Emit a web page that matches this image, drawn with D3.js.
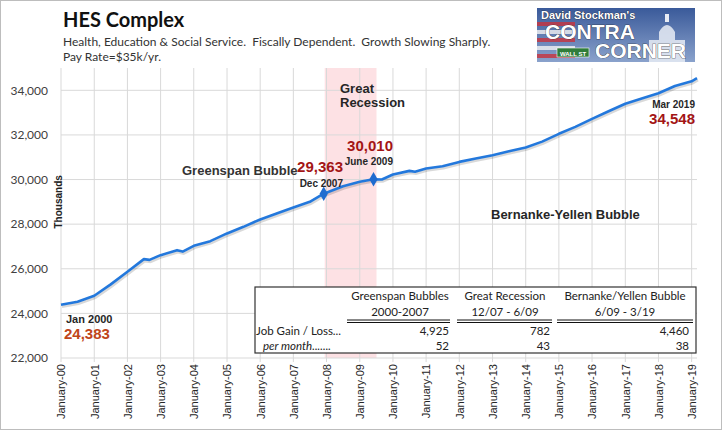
<!DOCTYPE html>
<html>
<head>
<meta charset="utf-8">
<script src="https://cdn.jsdelivr.net/npm/d3@7"></script>
<style>
  body { margin: 0; background: #fff; }
  svg { display: block; }
</style>
</head>
<body>
<svg id="chart" width="722" height="430"></svg>
<script>
// HES employment, thousands
const dates = [
  '2000-01', '2000-07', '2001-01', '2001-07', '2002-01', '2002-07', '2002-09',
  '2003-01', '2003-07', '2003-09', '2004-01', '2004-07', '2005-01', '2005-07',
  '2006-01', '2006-07', '2007-01', '2007-07', '2007-12', '2008-07', '2009-01',
  '2009-06', '2009-09', '2010-01', '2010-07', '2010-09', '2011-01', '2011-07',
  '2012-01', '2012-07', '2013-01', '2013-07', '2014-01', '2014-07', '2015-01',
  '2015-07', '2016-01', '2016-07', '2017-01', '2017-07', '2018-01', '2018-07',
  '2019-01', '2019-03'
];
const values = [
  24383, 24519, 24788, 25299, 25863, 26432, 26400,
  26611, 26835, 26770, 27028, 27239, 27584, 27880,
  28211, 28480, 28749, 29000, 29363, 29702, 29900,
  30010, 30000, 30226, 30388, 30350, 30495, 30598,
  30791, 30943, 31091, 31270, 31435, 31700, 32050,
  32359, 32720, 33061, 33400, 33630, 33870, 34194,
  34405, 34548
];
const yTicks = [22000, 24000, 26000, 28000, 30000, 32000, 34000];
const recession = ['2007-12', '2009-06'];

const marked = [
  { date: '2000-01', value: 24383, label: 'Jan 2000' },
  { date: '2007-12', value: 29363, label: 'Dec 2007' },
  { date: '2009-06', value: 30010, label: 'June 2009' },
  { date: '2019-03', value: 34548, label: 'Mar 2019' }
];

const tableHeads = [
  ['Greenspan Bubbles', '2000-2007'],
  ['Great Recession', '12/07 - 6/09'],
  ['Bernanke/Yellen Bubble', '6/09 - 3/19']
];
const jobGain = [4925, 782, 4460];
const perMonth = [52, 43, 38];

const parse = d3.timeParse('%Y-%m');
const data = dates.map((d, i) => ({ date: parse(d), value: values[i] }));

const svg = d3.select('#chart');
const W = 722, H = 430;
const margin = { top: 68, right: 25, bottom: 72, left: 61 };

// outer frame
svg.append('rect')
  .attr('x', 0.5).attr('y', 0.5)
  .attr('width', W - 1).attr('height', H - 1)
  .attr('fill', '#fff').attr('stroke', '#bdbdbd');

const x = d3.scaleTime()
  .domain([parse('2000-01'), parse('2019-03')])
  .range([margin.left, W - margin.right]);
const y = d3.scaleLinear()
  .domain([22000, 35000])
  .range([H - margin.bottom, margin.top]);

const years = d3.timeYear.range(parse('2000-01'), parse('2019-02'));

// recession band
const recX0 = x(parse(recession[0])) + 1;
svg.append('rect')
  .attr('x', recX0)
  .attr('y', margin.top)
  .attr('width', x(parse(recession[1])) - recX0 + 3)
  .attr('height', y(22000) - margin.top)
  .attr('fill', '#fde1e4');

// grid
const g_grid = svg.append('g');
g_grid.selectAll('.vg').data(years).enter().append('line')
  .attr('x1', d => x(d)).attr('x2', d => x(d))
  .attr('y1', margin.top).attr('y2', y(22000) + 4)
  .attr('stroke', '#d9d9d9');
g_grid.selectAll('.hg').data(yTicks).enter().append('line')
  .attr('x1', margin.left).attr('x2', W - margin.right)
  .attr('y1', d => y(d)).attr('y2', d => y(d))
  .attr('stroke', '#d9d9d9');

// y axis labels
const g_y = svg.append('g')
  .attr('transform', `translate(${margin.left},0)`)
  .call(d3.axisLeft(y).tickValues(yTicks).tickFormat(d3.format(',')).tickSize(0).tickPadding(13));
g_y.select('.domain').remove();
g_y.selectAll('text')
  .style('font-family', 'Lato, sans-serif').style('font-size', '12px').attr('fill', '#404040');

svg.append('text')
  .attr('transform', `translate(62,${y(29000)}) rotate(-90)`)
  .attr('text-anchor', 'middle')
  .style('font-family', 'Liberation Sans, Arial, sans-serif')
  .style('font-size', '10px').style('font-weight', 'bold').attr('fill', '#222')
  .text('Thousands');

// x axis labels
const g_x = svg.append('g')
  .attr('transform', `translate(0,${y(22000)})`)
  .call(d3.axisBottom(x).tickValues(years).tickFormat(d => 'January-' + d3.timeFormat('%y')(d)).tickSize(0).tickPadding(5));
g_x.select('.domain').remove();
g_x.selectAll('text')
  .attr('transform', 'rotate(-90)')
  .attr('x', -6).attr('y', 0).attr('dy', '0.35em')
  .style('text-anchor', 'end')
  .style('font-family', 'Liberation Sans, Arial, sans-serif')
  .style('font-size', '11px').attr('fill', '#262626');

// line with soft shadow
const line = d3.line().x(d => x(d.date)).y(d => y(d.value));
svg.append('path').datum(data)
  .attr('d', line)
  .attr('transform', 'translate(1,2)')
  .attr('fill', 'none').attr('stroke', 'rgba(0,0,0,0.15)').attr('stroke-width', 2.6);
svg.append('path').datum(data)
  .attr('d', line)
  .attr('fill', 'none').attr('stroke', '#2378dc').attr('stroke-width', 2.6)
  .attr('stroke-linejoin', 'round');

// diamond markers
svg.selectAll('.mk').data(marked.slice(1, 3)).enter().append('path')
  .attr('d', d3.symbol().type(d3.symbolDiamond).size(60))
  .attr('transform', d => `translate(${x(parse(d.date))},${y(d.value)})`)
  .attr('fill', '#1f6ccf');

// annotations
const ann = (tx, ty, txt, size, color, anchor) =>
  svg.append('text').attr('x', tx).attr('y', ty)
    .attr('text-anchor', anchor || 'start')
    .style('font-family', 'Liberation Sans, Arial, sans-serif')
    .style('font-size', size + 'px').style('font-weight', 'bold')
    .attr('fill', color).text(txt);

ann(66, 323, marked[0].label, 11, '#262626');
ann(64, 339, d3.format(',')(marked[0].value), 15, '#c0451a');
ann(182, 175, 'Greenspan Bubble', 13, '#333');
ann(343, 172, d3.format(',')(marked[1].value), 15, '#a31515', 'end');
ann(343, 187, marked[1].label, 10, '#262626', 'end');
ann(393, 151, d3.format(',')(marked[2].value), 15, '#a31515', 'end');
ann(393, 165, marked[2].label, 10, '#262626', 'end');
ann(340, 93, 'Great', 13, '#262626');
ann(340, 107, 'Recession', 13, '#262626');
ann(491, 219, 'Bernanke-Yellen Bubble', 13, '#262626');
ann(695, 108, marked[3].label, 10, '#262626', 'end');
ann(695, 124, d3.format(',')(marked[3].value), 15, '#a31515', 'end');

// titles
svg.append('text').attr('x', 63).attr('y', 27)
  .style('font-family', 'Lato, sans-serif').style('font-size', '20px').style('font-weight', 'bold')
  .attr('fill', '#111').text('HES Complex');
svg.append('text').attr('x', 63).attr('y', 46)
  .style('font-family', 'Lato, sans-serif').style('font-size', '12px').attr('fill', '#333')
  .attr('xml:space', 'preserve')
  .text('Health, Education & Social Service.  Fiscally Dependent.  Growth Slowing Sharply.');
svg.append('text').attr('x', 63).attr('y', 61)
  .style('font-family', 'Lato, sans-serif').style('font-size', '12px').attr('fill', '#333')
  .text('Pay Rate=$35k/yr.');

// table
const tb = { x: 255, y: 287, w: 441, h: 66 };
const g_t = svg.append('g');
g_t.append('rect').attr('x', tb.x).attr('y', tb.y).attr('width', tb.w).attr('height', tb.h)
  .attr('fill', '#fff').attr('stroke', '#333').attr('stroke-width', 1.2);
const colC = [400, 505, 625];
const colR = [449, 550, 689];
const colSpan = [[347, 450], [457, 552], [557, 693]];
const tFont = sel => sel.style('font-family', 'Lato, sans-serif').style('font-size', '11.5px').attr('fill', '#222');
tableHeads.forEach((h, i) => {
  g_t.append('text').attr('x', colC[i]).attr('y', 300).attr('text-anchor', 'middle').text(h[0]).call(tFont);
  g_t.append('text').attr('x', colC[i]).attr('y', 316).attr('text-anchor', 'middle').text(h[1]).call(tFont);
  [320, 322.5].forEach(ly => g_t.append('line')
    .attr('x1', colSpan[i][0]).attr('x2', colSpan[i][1]).attr('y1', ly).attr('y2', ly)
    .attr('stroke', '#111').attr('stroke-width', 1));
  g_t.append('text').attr('x', colR[i]).attr('y', 335).attr('text-anchor', 'end')
    .text(d3.format(',')(jobGain[i])).call(tFont);
  g_t.append('text').attr('x', colR[i]).attr('y', 350).attr('text-anchor', 'end')
    .text(perMonth[i]).call(tFont);
});
g_t.append('text').attr('x', 256).attr('y', 335).text('Job Gain / Loss...').call(tFont);
g_t.append('text').attr('x', 263).attr('y', 350).style('font-style', 'italic').text('per month.......').call(tFont);

// logo block
const lg = svg.append('g').attr('transform', 'translate(537,8)');
const defs = svg.append('defs');
const grad = defs.append('linearGradient').attr('id', 'lgbg').attr('x1', 0).attr('y1', 0).attr('x2', 0).attr('y2', 1);
grad.append('stop').attr('offset', '0%').attr('stop-color', '#3a5a9a');
grad.append('stop').attr('offset', '100%').attr('stop-color', '#8aa2cc');
lg.append('rect').attr('width', 158).attr('height', 54).attr('fill', 'url(#lgbg)');
d3.range(5).forEach(i => lg.append('rect')
  .attr('x', 0).attr('y', 14 + i * 8).attr('width', 38).attr('height', 4)
  .attr('fill', i % 2 ? '#f3f3f3' : '#c8323c').attr('opacity', 0.8));
lg.append('path')
  .attr('d', 'M112,54 L112,32 L122,32 L122,24 Q130,10 138,24 L138,32 L148,32 L148,54 Z')
  .attr('fill', '#e8ecf4').attr('opacity', 0.85);
lg.append('rect').attr('x', 128).attr('y', 6).attr('width', 4).attr('height', 8).attr('fill', '#e8ecf4');
lg.append('rect').attr('x', 20).attr('y', 40).attr('width', 32).attr('height', 9).attr('fill', '#2f7d3a').attr('stroke', '#fff').attr('stroke-width', 0.6);
lg.append('text').attr('x', 36).attr('y', 47.5).attr('text-anchor', 'middle')
  .style('font-family', 'Liberation Sans, Arial, sans-serif').style('font-size', '6px').style('font-weight', 'bold')
  .attr('fill', '#fff').text('WALL ST');
const logoText = (tx, ty, txt, size) => lg.append('text').attr('x', tx).attr('y', ty)
  .style('font-family', 'Liberation Sans, Arial, sans-serif').style('font-size', size + 'px').style('font-weight', 'bold')
  .attr('fill', '#fff').attr('stroke', '#1a1a1a').attr('stroke-width', 0.6).attr('paint-order', 'stroke')
  .text(txt);
logoText(4, 11, "David Stockman's", 11);
logoText(8, 31, 'CONTRA', 21);
logoText(58, 50, 'CORNER', 21);
</script>
</body>
</html>
